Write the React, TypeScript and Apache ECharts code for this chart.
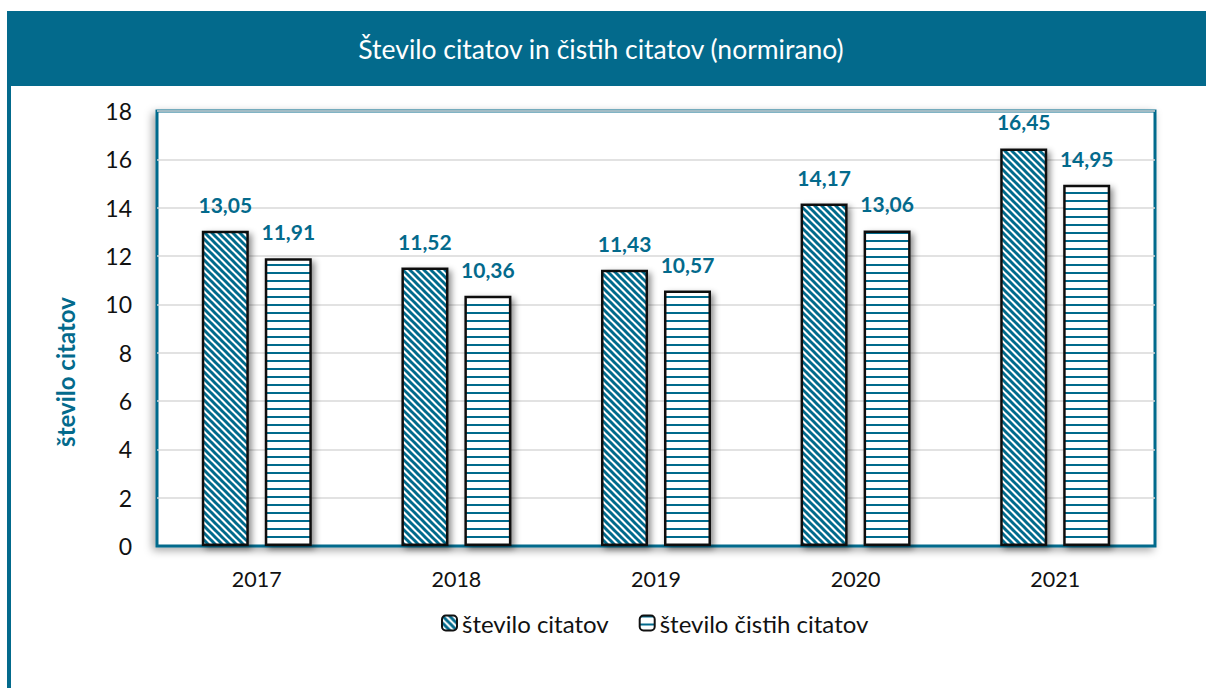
import React, { useEffect, useRef } from "react";
import * as echarts from "echarts";

const years = ["2017", "2018", "2019", "2020", "2021"];
const allCitations = [13.05, 11.52, 11.43, 14.17, 16.45];
const cleanCitations = [11.91, 10.36, 10.57, 13.06, 14.95];
const seriesNames = ["število citatov", "število čistih citatov"];
const titleText = "Število citatov in čistih citatov (normirano)";
const yAxisTitle = "število citatov";

const TEAL = "#036a8c";
const FONT = "Lato, 'Open Sans', sans-serif";

function diagonalTile(): HTMLCanvasElement {
  const s = 7;
  const c = document.createElement("canvas");
  c.width = s;
  c.height = s;
  const ctx = c.getContext("2d")!;
  ctx.fillStyle = "#ffffff";
  ctx.fillRect(0, 0, s, s);
  ctx.strokeStyle = TEAL;
  ctx.lineWidth = 3;
  for (let k = -1; k <= 1; k++) {
    ctx.beginPath();
    ctx.moveTo(k * s - 1, -1);
    ctx.lineTo(k * s + s + 1, s + 1);
    ctx.stroke();
  }
  return c;
}

function horizontalTile(): HTMLCanvasElement {
  const c = document.createElement("canvas");
  c.width = 4;
  c.height = 8;
  const ctx = c.getContext("2d")!;
  ctx.fillStyle = "#ffffff";
  ctx.fillRect(0, 0, 4, 8);
  ctx.fillStyle = TEAL;
  ctx.fillRect(0, 0, 4, 2);
  return c;
}

export default function App() {
  const ref = useRef<HTMLDivElement>(null);
  useEffect(() => {
    const chart = echarts.init(ref.current!, null, { renderer: "svg" });
    const fmt = (p: any) => Number(p.value).toFixed(2).replace(".", ",");
    const label = {
      show: true,
      position: "top",
      distance: 16,
      formatter: fmt,
      color: TEAL,
      fontWeight: "bold",
      fontSize: 21,
      fontFamily: FONT,
    };
    const baseItem = {
      borderColor: "#111111",
      borderWidth: 2.5,
      shadowBlur: 6,
      shadowColor: "rgba(0,0,0,0.45)",
      shadowOffsetX: 3,
      shadowOffsetY: 3,
    };
    const diag = { image: diagonalTile(), repeat: "repeat" };
    const horiz = { image: horizontalTile(), repeat: "repeat" };
    chart.setOption({
      animation: false,
      backgroundColor: "#ffffff",
      textStyle: { fontFamily: FONT },
      graphic: [
        { type: "rect", shape: { x: 7, y: 11, width: 1199, height: 75 }, style: { fill: TEAL } },
        { type: "rect", shape: { x: 7, y: 86, width: 4, height: 602 }, style: { fill: TEAL } },
        {
          type: "text",
          x: 601,
          y: 49,
          style: { text: titleText, fill: "#ffffff", font: `26.5px ${FONT}`, align: "center", verticalAlign: "middle" },
        },
        {
          type: "text",
          x: 65,
          y: 372,
          rotation: Math.PI / 2,
          style: { text: yAxisTitle, fill: TEAL, font: `bold 24px ${FONT}`, align: "center", verticalAlign: "middle" },
        },
      ],
      grid: {
        show: true,
        left: 157,
        right: 51,
        top: 111,
        bottom: 142,
        borderColor: TEAL,
        borderWidth: 3,
        backgroundColor: "#ffffff",
        shadowBlur: 8,
        shadowColor: "rgba(0,0,0,0.35)",
        shadowOffsetX: -3,
        shadowOffsetY: 3,
      },
      legend: {
        bottom: 48,
        left: 436,
        itemWidth: 15,
        itemHeight: 15,
        itemGap: 30,
        textStyle: { fontSize: 24, color: "#111", fontFamily: FONT },
        data: seriesNames,
      },
      xAxis: {
        type: "category",
        data: years,
        axisLine: { lineStyle: { color: TEAL, width: 2 } },
        axisTick: { show: false },
        axisLabel: { fontSize: 21.5, color: "#111", margin: 22, fontFamily: FONT },
      },
      yAxis: {
        type: "value",
        min: 0,
        max: 18,
        interval: 2,
        axisLine: { show: false },
        axisTick: { show: false },
        axisLabel: { fontSize: 23, color: "#111", margin: 25, fontFamily: FONT },
        splitLine: { lineStyle: { color: "#d9d9d9", width: 1.5 } },
      },
      series: [
        {
          name: seriesNames[0],
          type: "bar",
          data: allCitations,
          barWidth: 47,
          barGap: "34%",
          label,
          itemStyle: { ...baseItem, color: diag },
        },
        {
          name: seriesNames[1],
          type: "bar",
          data: cleanCitations,
          barWidth: 47,
          label,
          itemStyle: { ...baseItem, color: horiz },
        },
      ],
    });
    return () => chart.dispose();
  }, []);
  return (
    <div
      ref={ref}
      style={{ position: "absolute", left: 0, top: 0, width: 1206, height: 688 }}
    />
  );
}
